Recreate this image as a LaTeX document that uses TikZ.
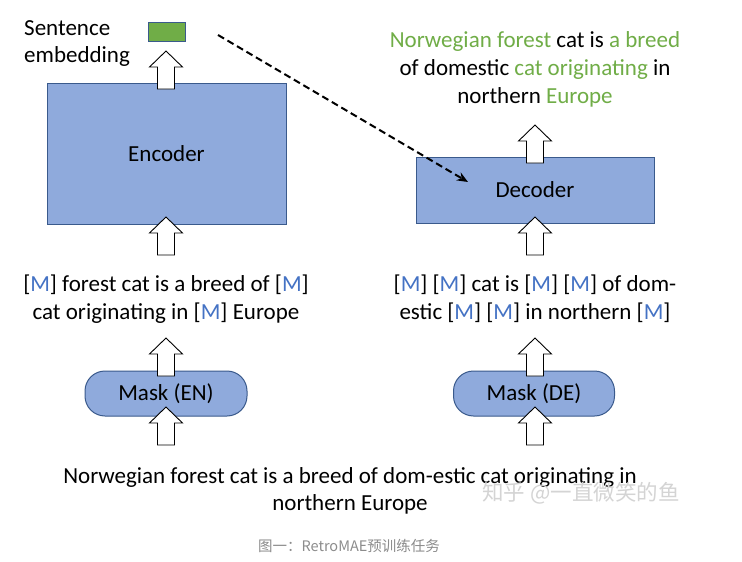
\documentclass[tikz,border=0pt]{standalone}
\usepackage{fontspec}
\setmainfont{Carlito}
\newfontfamily\cjk{Noto Sans CJK SC}
\usetikzlibrary{arrows.meta}
\definecolor{boxblue}{HTML}{8FAADC}
\definecolor{boxline}{HTML}{3A5A8C}
\definecolor{mblue}{HTML}{4472C4}
\definecolor{tgreen}{HTML}{70AD47}
\definecolor{capgray}{HTML}{8C8C8C}
\definecolor{wmgray}{HTML}{D4D4D4}
\newcommand{\MM}{[\textcolor{mblue}{M}]}
\newcommand{\G}[1]{\textcolor{tgreen}{#1}}
\begin{document}
\begin{tikzpicture}[x=1pt,y=-1pt,
  txt/.style={font=\fontsize{23}{28}\selectfont, align=center, inner sep=0pt},
  block/.style={draw=boxline, line width=1pt, fill=boxblue, inner sep=0pt, font=\fontsize{23}{26}\selectfont},
  maskbox/.style={block, rounded corners=20pt},
  pics/uparr/.style={code={
    \draw[line width=0.9pt, fill=white, line join=miter]
      (-8.5,0) -- (-8.5,-22) -- (-16.5,-22) -- (0,-38) -- (16.5,-22) -- (8.5,-22) -- (8.5,0) -- cycle;}}
]
\useasboundingbox[fill=white] (0,0) rectangle (742,562);

% Left column
\node[block, minimum width=239pt, minimum height=141pt] (enc) at (166.5,153.5) {Encoder};
\node[draw=boxline, line width=0.8pt, fill=tgreen, minimum width=37pt, minimum height=19pt, inner sep=0pt] (emb) at (166.5,31.5) {};
\node[txt, align=left, anchor=west, font=\fontsize{23}{27}\selectfont] (embl) at (24,44) {Sentence\\embedding};
\node[txt] (lmask) at (166,299) {\MM{} forest cat is a breed of \MM\\cat originating in \MM{} Europe};
\node[maskbox, minimum width=162pt, minimum height=45pt] (men) at (166,393.5) {Mask (EN)};

% Right column
\node[block, minimum width=238pt, minimum height=66pt] (dec) at (535,190) {Decoder};
\node[txt] (out) at (535,69) {\G{Norwegian forest} cat is \G{a breed}\\of domestic \G{cat originating} in\\northern \G{Europe}};
\node[txt] (rmask) at (535,299) {\MM{} \MM{} cat is \MM{} \MM{} of dom-\\estic \MM{} \MM{} in northern \MM};
\node[maskbox, minimum width=161pt, minimum height=45pt] (mde) at (534,393.5) {Mask (DE)};

% Bottom text
\node[txt, font=\fontsize{23}{27}\selectfont] (src) at (350,491) {Norwegian forest cat is a breed of dom-estic cat originating in\\northern Europe};
\node[font=\cjk\fontsize{21.5}{24}\selectfont, text=wmgray, inner sep=0pt] (wm) at (581,493) {知乎 @一直微笑的鱼};
\node[font=\cjk\fontsize{14.5}{16}\selectfont, text=capgray, inner sep=0pt] (cap) at (349,546) {图一：RetroMAE预训练任务};

% Block arrows (bottom point, drawn upward)
\pic at (166,89) {uparr};
\pic at (166,255) {uparr};
\pic at (166,376) {uparr};
\pic at (166,445) {uparr};
\pic at (535,163) {uparr};
\pic at (535,255) {uparr};
\pic at (535,376) {uparr};
\pic at (535,445) {uparr};

% Dashed connector
\coordinate (dstart) at (218,35);
\coordinate (dend) at (468,182);
\draw[line width=2pt, dash pattern=on 7pt off 4pt, -{Stealth[length=11pt,width=9pt]}] (dstart) -- (dend);
\end{tikzpicture}
\end{document}
